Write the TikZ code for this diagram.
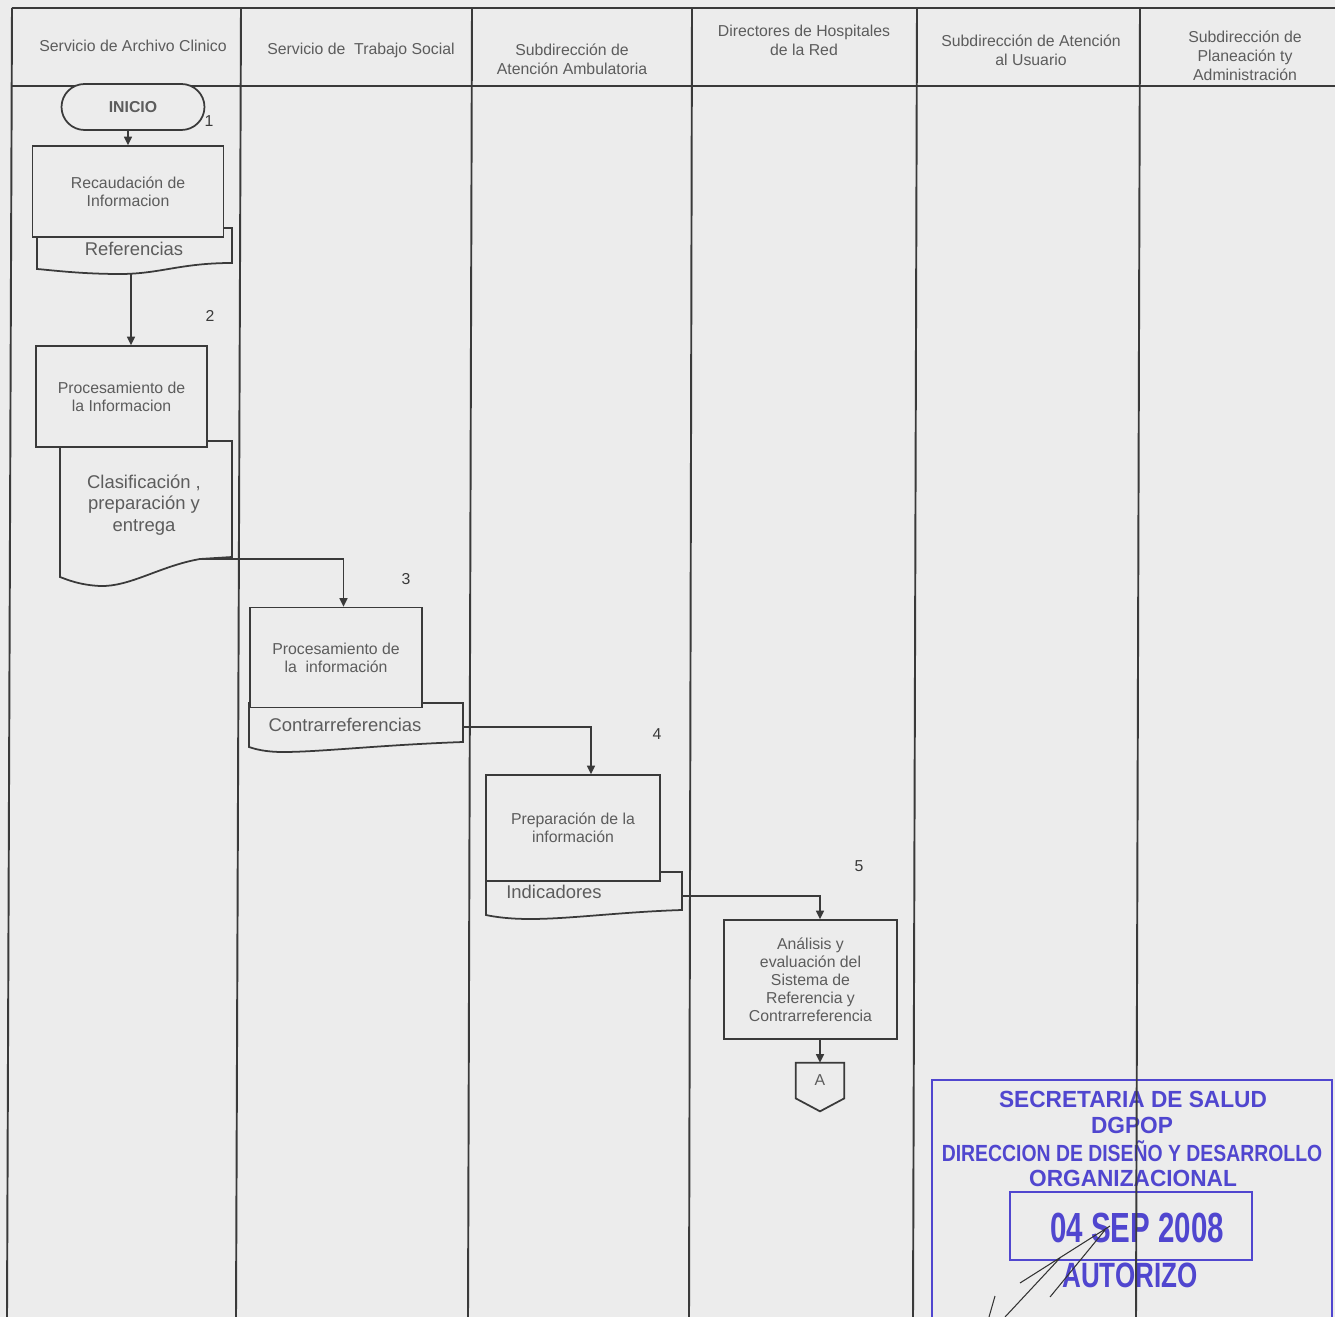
\documentclass[tikz,border=0pt]{standalone}
\usepackage{fontspec}
\setmainfont{Liberation Sans}
\usepackage{tikz}
\usetikzlibrary{positioning,arrows.meta,calc}
\definecolor{paper}{HTML}{ECECEC}
\definecolor{ink}{HTML}{3A3A3A}
\definecolor{inktext}{HTML}{5C5C5C}
\definecolor{stampblue}{HTML}{5046CF}
\tikzset{
  fl/.style={align=center, text=inktext, font=\fontsize{9}{10.3}\selectfont, inner sep=0pt},
  fl proc/.style={fl, draw=ink, line width=1pt, fill=paper},
  fl doc/.style={draw=ink, line width=1pt, fill=paper},
  fl doctext/.style={fl, font=\fontsize{10.5}{12.2}\selectfont},
  fl term/.style={fl proc, rounded corners=0.46cm, font=\bfseries\fontsize{9}{10}\selectfont},
  fl arr/.style={-{Triangle[length=1.7mm,width=1.6mm]}, line width=0.9pt, ink},
  fl head/.style={fl, font=\fontsize{9}{10.8}\selectfont},
  fl num/.style={fl, text=ink},
  fl lane/.style={line width=1.1pt, ink},
  fl stamp/.style={text=stampblue, font=\bfseries\fontsize{13.3}{14}\selectfont, inner sep=0pt},
}
\begin{document}
\begin{tikzpicture}[x=0.02cm, y=-0.02cm,
  st/.style={fl proc},
  sig/.style={line width=0.6pt, black!80}]
  \useasboundingbox (0,0) rectangle (1335,1317);
  \fill[paper] (0,0) rectangle (1335,1317);
  % stamp, under the lane lines
  \draw[stampblue, line width=1.6pt] (932,1317) -- (932,1080) -- (1332,1080) -- (1332,1317);
  \draw[stampblue, line width=1.6pt] (1010,1192) rectangle (1252,1260);
  \node[fl stamp] (s1) at (1133,1099) {\scalebox{0.97}[1]{SECRETARIA DE SALUD}};
  \node[fl stamp] (s2) at (1132,1125) {\scalebox{0.97}[1]{DGPOP}};
  \node[fl stamp] (s3) at (1132,1151) {\scalebox{0.83}[1]{DIRECCION DE DISEÑO Y DESARROLLO}};
  \node[fl stamp] (s4) at (1133,1178) {\scalebox{0.97}[1]{ORGANIZACIONAL}};
  \node[fl stamp, font=\bfseries\fontsize{24}{26}\selectfont] (s5) at (1137,1228) {\scalebox{0.7}[1]{04 SEP 2008}};
  \node[fl stamp, font=\bfseries\fontsize{20}{22}\selectfont] (s6) at (1130,1275) {\scalebox{0.74}[1]{AUTORIZO}};
  \draw[sig] (1110,1226) -- (1020,1283) (1105,1230) -- (1050,1297) (1060,1258) -- (1005,1317) (995,1296) -- (989,1317);
  % lanes and header
  \foreach \xa/\xb in {12/7,241/236,472/468,692/689,917/913,1140/1136}
    \draw[fl lane] (\xa,8) -- (\xb,1317);
  \draw[fl lane] (12,8) -- (1335,8);
  \draw[fl lane] (12,86) -- (1335,86);
  \node[fl head] (h1) at (133,46) {Servicio de Archivo Clinico};
  \node[fl head] (h2) at (361,50) {Servicio de\ \ Trabajo Social};
  \node[fl head] (h3) at (572,59) {Subdirección de\\Atención Ambulatoria};
  \node[fl head] (h4) at (804,40) {Directores de Hospitales\\de la Red};
  \node[fl head] (h5) at (1031,50) {Subdirección de Atención\\al Usuario};
  \node[fl head] (h6) at (1245,56) {Subdirección de\\Planeación ty\\Administración};
  % documents go under their boxes
  \draw[fl doc] (37,228) -- (232,228) -- (232,263) .. controls (180,263) and (160,274) .. (120,274)
     .. controls (80,274) and (50,270) .. (37,269) -- cycle;
  \draw[fl doc] (60,441) -- (232,441) -- (232,557) -- (200,559) .. controls (160,566) and (130,587) .. (100,586)
     .. controls (80,585) and (68,580) .. (60,577) -- cycle;
  \draw[fl doc] (249,703) -- (463,703) -- (463,742) .. controls (380,745) and (320,752) .. (283,752)
     .. controls (265,752) and (255,749) .. (249,747) -- cycle;
  \draw[fl doc] (486,872) -- (682,872) -- (682,910) .. controls (620,912) and (570,919) .. (530,919)
     .. controls (510,919) and (495,917) .. (486,915) -- cycle;
  % steps
  \node[fl term, minimum width=2.86cm, minimum height=0.92cm] (inicio) at (133,107) {INICIO};
  \node[st, minimum width=3.82cm, minimum height=1.82cm] (rec) at (128,191.5) {Recaudación de\\Informacion};
  \node[fl doctext] (refs) at (134,249) {Referencias};
  \node[st, minimum width=3.42cm, minimum height=2.02cm] (proc1) at (121.5,396.5) {Procesamiento de\\la Informacion};
  \node[fl doctext] (clas) at (144,505) {Clasificación ,\\preparación y\\entrega};
  \node[st, minimum width=3.44cm, minimum height=2.0cm] (proc2) at (336,657.5) {Procesamiento de\\la\ \ información};
  \node[fl doctext] (contra) at (345,725) {Contrarreferencias};
  \node[st, minimum width=3.48cm, minimum height=2.12cm] (prep) at (573,828) {Preparación de la\\información};
  \node[fl doctext] (ind) at (554,892) {Indicadores};
  \node[st, minimum width=3.46cm, minimum height=2.38cm] (an) at (810.5,979.5)
     {Análisis y\\evaluación del\\Sistema de\\Referencia y\\Contrarreferencia};
  \node[fl, minimum width=0.96cm, minimum height=0.7cm] (offA) at (820,1080.5) {A};
  \draw[draw=ink, line width=1pt] (offA.north west) -- (offA.north east) -- (offA.south east)
     -- ([yshift=-0.26cm]offA.south) -- (offA.south west) -- cycle;
  % step numbers
  \node[fl num] (n1) at (209,121) {1};
  \node[fl num] (n2) at (210,316) {2};
  \node[fl num] (n3) at (406,579) {3};
  \node[fl num] (n4) at (657,734) {4};
  \node[fl num] (n5) at (859,866) {5};
  % connectors
  \coordinate (refsout) at (131,273);
  \coordinate (clasout) at (200,559);
  \coordinate (contraout) at (463,727);
  \coordinate (indout) at (682,896);
  \draw[fl arr] (rec.north |- inicio.south) -- (rec.north);
  \draw[fl arr] (refsout) -- (refsout |- proc1.north);
  \draw[fl arr] (clasout) -| ([xshift=0.15cm]proc2.north);
  \draw[fl arr] (contraout) -| ([xshift=0.36cm]prep.north);
  \draw[fl arr] (indout) -| ([xshift=0.19cm]an.north);
  \draw[fl arr] (offA.north |- an.south) -- (offA.north);
\end{tikzpicture}
\end{document}
